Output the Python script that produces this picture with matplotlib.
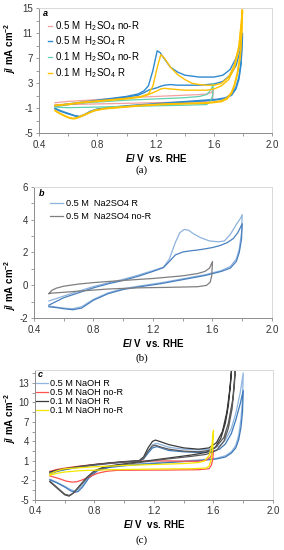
import matplotlib
matplotlib.use("Agg")
import matplotlib.pyplot as plt
from matplotlib.ticker import FixedLocator

plt.rcParams["font.family"] = ["Liberation Sans", "DejaVu Sans"]
plt.rcParams["mathtext.fontset"] = "custom"
plt.rcParams["mathtext.rm"] = "Liberation Sans"
plt.rcParams["mathtext.it"] = "Liberation Sans:italic:bold"
plt.rcParams["mathtext.bf"] = "Liberation Sans:bold"

# ---- panel (a): H2SO4 ----
a_nor05_fwd_E = [0.51, 0.60, 0.80, 1.00, 1.20, 1.40, 1.50, 1.55, 1.58, 1.595]
a_nor05_fwd_j = [-0.1, 0.1, 0.4, 0.7, 0.9, 1.1, 1.2, 1.3, 1.5, 2.0]
a_nor05_rev_E = [1.595, 1.59, 1.57, 1.50, 1.30, 1.00, 0.80, 0.60, 0.51]
a_nor05_rev_j = [2.0, 0.5, 0.2, 0.05, -0.05, -0.2, -0.3, -0.4, -0.4]

a_r05_fwd_E = [0.51, 0.60, 0.70, 0.80, 0.90, 1.00, 1.08, 1.12, 1.15, 1.18, 1.21, 1.23, 1.26,
               1.30, 1.35, 1.40, 1.50, 1.60, 1.66, 1.71, 1.75, 1.78, 1.795]
a_r05_fwd_j = [-0.6, -0.3, 0.0, 0.3, 0.6, 0.9, 1.3, 1.8, 2.6, 5.0, 8.2, 7.9, 6.9,
               5.6, 4.8, 4.3, 4.0, 4.0, 4.3, 5.2, 7.0, 9.2, 11.0]
a_r05_fwd2_j = [-0.7, -0.4, -0.1, 0.2, 0.5, 0.8, 1.1, 1.5, 1.9, 2.1, 2.3, 2.5, 2.7,
                2.8, 2.7, 2.7, 2.7, 2.9, 3.3, 4.3, 5.8, 8.3, 10.5]
a_r05_rev_E = [1.795, 1.785, 1.77, 1.75, 1.72, 1.68, 1.62, 1.50, 1.35, 1.20, 1.05, 0.90,
               0.80, 0.75, 0.71, 0.68, 0.65, 0.60, 0.55, 0.51]
a_r05_rev_j = [11.0, 6.5, 4.0, 2.4, 1.3, 0.7, 0.45, 0.25, 0.0, -0.25, -0.5, -0.8,
               -1.1, -1.5, -2.0, -2.3, -2.2, -1.8, -1.4, -1.0]
a_r05_rev2_j = [10.5, 6.0, 3.6, 2.1, 1.1, 0.6, 0.35, 0.15, -0.1, -0.35, -0.6, -0.9,
                -1.2, -1.6, -2.1, -2.35, -2.25, -1.9, -1.5, -1.1]

a_nor01_fwd_E = [0.51, 0.60, 0.80, 1.00, 1.20, 1.40, 1.50, 1.55, 1.58, 1.595]
a_nor01_fwd_j = [-0.6, -0.3, 0.0, 0.3, 0.5, 0.7, 0.9, 1.2, 2.0, 3.0]
a_nor01_rev_E = [1.595, 1.59, 1.57, 1.55, 1.40, 1.20, 1.00, 0.80, 0.60, 0.51]
a_nor01_rev_j = [3.0, 1.0, 0.0, -0.4, -0.5, -0.6, -0.7, -0.8, -0.9, -0.8]

a_r01_fwd_E = [0.51, 0.60, 0.70, 0.80, 0.90, 1.00, 1.10, 1.15, 1.18, 1.21, 1.235, 1.26, 1.30,
               1.35, 1.40, 1.45, 1.50, 1.55, 1.60, 1.65, 1.70, 1.74, 1.77, 1.785, 1.795]
a_r01_fwd_j = [-0.5, -0.3, 0.0, 0.2, 0.4, 0.6, 0.9, 1.3, 2.5, 5.5, 7.6, 7.0, 5.6,
               4.4, 3.6, 3.0, 2.8, 2.7, 2.7, 3.0, 4.0, 6.0, 9.0, 12.5, 15.3]
a_r01_fwd2_j = [-0.6, -0.4, -0.1, 0.1, 0.3, 0.5, 0.8, 1.2, 1.5, 1.8, 2.1, 2.2, 2.1,
                2.0, 1.9, 1.9, 1.9, 1.9, 2.1, 2.6, 3.6, 5.5, 8.5, 12.0, 14.5]
a_r01_rev_E = [1.795, 1.79, 1.78, 1.76, 1.74, 1.72, 1.69, 1.65, 1.55, 1.40, 1.25, 1.10,
               0.95, 0.85, 0.78, 0.72, 0.67, 0.64, 0.61, 0.57, 0.53, 0.51]
a_r01_rev_j = [15.3, 11.5, 7.8, 4.8, 2.9, 1.6, 0.7, 0.2, -0.1, -0.2, -0.3, -0.5,
               -0.8, -1.0, -1.3, -1.9, -2.4, -2.6, -2.5, -2.1, -1.6, -1.3]
a_r01_rev2_j = [14.5, 11.0, 7.3, 4.4, 2.6, 1.4, 0.5, 0.05, -0.2, -0.3, -0.4, -0.6,
                -0.9, -1.1, -1.4, -2.0, -2.5, -2.7, -2.6, -2.2, -1.7, -1.4]

# ---- panel (b): Na2SO4 ----
b_r_fwd_E = [0.50, 0.55, 0.60, 0.70, 0.80, 0.90, 1.00, 1.10, 1.20, 1.27, 1.31, 1.35, 1.38,
             1.41, 1.44, 1.47, 1.52, 1.58, 1.64, 1.68, 1.72, 1.76, 1.79, 1.80]
b_r_fwd_j = [-0.95, -0.8, -0.65, -0.35, -0.07, 0.15, 0.37, 0.62, 0.9, 1.1, 1.6, 2.6, 3.2,
             3.4, 3.35, 3.15, 2.9, 2.7, 2.65, 2.7, 3.1, 3.7, 4.1, 4.3]
b_r_fwd2_E = [0.50, 0.60, 0.70, 0.80, 0.90, 1.00, 1.10, 1.20, 1.27, 1.31, 1.35, 1.40,
              1.45, 1.50, 1.55, 1.60, 1.65, 1.70, 1.74, 1.77, 1.80]
b_r_fwd2_j = [-1.2, -0.75, -0.45, -0.15, 0.1, 0.3, 0.55, 0.85, 1.08, 1.45, 1.85, 2.03,
              2.1, 2.15, 2.22, 2.3, 2.42, 2.6, 2.85, 3.2, 3.75]
b_r_rev_E = [1.80, 1.795, 1.78, 1.76, 1.72, 1.66, 1.55, 1.40, 1.25, 1.10, 1.00, 0.90,
             0.80, 0.72, 0.66, 0.60, 0.55, 0.50]
b_r_rev_j = [4.3, 3.2, 2.2, 1.6, 1.15, 0.9, 0.65, 0.4, 0.15, -0.05, -0.2, -0.45,
             -0.85, -1.3, -1.42, -1.38, -1.32, -1.25]
b_r_rev2_j = [3.75, 2.8, 2.0, 1.45, 1.05, 0.85, 0.6, 0.35, 0.1, -0.1, -0.25, -0.5,
              -0.9, -1.38, -1.48, -1.42, -1.35, -1.3]

b_nor_fwd_E = [0.50, 0.52, 0.55, 0.60, 0.70, 0.80, 1.00, 1.20, 1.40, 1.50, 1.55, 1.58, 1.60]
b_nor_fwd_j = [-0.5, -0.3, -0.17, -0.05, 0.08, 0.17, 0.3, 0.42, 0.58, 0.72, 0.85, 1.05, 1.45]
b_nor_rev_E = [1.60, 1.595, 1.585, 1.56, 1.50, 1.30, 1.10, 0.90, 0.70, 0.60, 0.52, 0.50]
b_nor_rev_j = [1.45, 0.6, 0.2, 0.0, -0.08, -0.12, -0.15, -0.22, -0.35, -0.42, -0.47, -0.5]

# ---- panel (c): NaOH ----
c_r05_fwd_E = [0.50, 0.55, 0.60, 0.70, 0.80, 0.90, 1.00, 1.10, 1.13, 1.16, 1.19, 1.22,
               1.26, 1.30, 1.40, 1.50, 1.58, 1.64, 1.68, 1.72, 1.75, 1.78, 1.80]
c_r05_fwd_j = [-0.8, -0.5, -0.3, 0.1, 0.4, 0.65, 0.85, 1.0, 1.4, 2.5, 3.5, 3.7,
               3.4, 3.1, 2.8, 2.7, 2.8, 3.3, 4.2, 6.0, 8.3, 11.5, 14.5]
c_r05_fwd2_j = [-1.0, -0.6, -0.35, 0.05, 0.35, 0.6, 0.8, 0.95, 1.3, 2.2, 3.0, 3.2,
                2.9, 2.6, 2.4, 2.3, 2.4, 2.8, 3.6, 5.2, 7.3, 9.8, 11.8]
c_r05_rev_E = [1.80, 1.795, 1.785, 1.77, 1.75, 1.72, 1.68, 1.62, 1.50, 1.40, 1.30, 1.20,
               1.10, 1.00, 0.90, 0.82, 0.76, 0.72, 0.69, 0.67, 0.64, 0.60, 0.55, 0.50]
c_r05_rev_j = [14.5, 10.5, 7.5, 5.0, 3.4, 2.4, 1.8, 1.4, 1.15, 1.0, 0.85, 0.7,
               0.55, 0.35, 0.1, -0.4, -1.5, -2.7, -3.4, -3.6, -3.4, -2.9, -2.3, -1.8]
c_r05_rev2_j = [11.8, 8.5, 6.2, 4.3, 3.0, 2.2, 1.6, 1.3, 1.05, 0.9, 0.75, 0.6,
                0.45, 0.25, 0.0, -0.5, -1.7, -3.0, -3.7, -3.8, -3.6, -3.0, -2.4, -1.9]

c_nor05_fwd_E = [0.50, 0.55, 0.60, 0.70, 0.80, 0.90, 1.00, 1.10, 1.20, 1.30, 1.40, 1.50,
                 1.55, 1.58, 1.60]
c_nor05_fwd_j = [-0.6, -0.3, -0.1, 0.2, 0.45, 0.65, 0.85, 0.95, 1.0, 1.0, 0.95, 0.95,
                 1.1, 1.6, 2.6]
c_nor05_rev_E = [1.60, 1.595, 1.585, 1.57, 1.50, 1.30, 1.10, 0.95, 0.88, 0.82, 0.77,
                 0.72, 0.68, 0.65, 0.61, 0.56, 0.50]
c_nor05_rev_j = [2.6, 1.2, 0.3, -0.2, -0.35, -0.4, -0.42, -0.45, -0.6, -0.9, -1.4,
                 -1.9, -2.2, -2.25, -2.1, -1.7, -1.3]

c_r01_fwd_E = [0.50, 0.55, 0.60, 0.70, 0.80, 0.90, 1.00, 1.10, 1.13, 1.16, 1.19, 1.21,
               1.25, 1.30, 1.40, 1.50, 1.57, 1.62, 1.66, 1.69, 1.71, 1.725]
c_r01_fwd_j = [-0.7, -0.4, -0.2, 0.15, 0.45, 0.7, 0.9, 1.05, 1.6, 3.0, 4.0, 4.2,
               3.9, 3.5, 3.0, 2.8, 3.0, 3.8, 5.5, 8.5, 12.0, 16.0]
c_r01_rev_E = [1.725, 1.715, 1.70, 1.68, 1.65, 1.61, 1.55, 1.45, 1.35, 1.25, 1.15, 1.05,
               0.95, 0.87, 0.80, 0.75, 0.70, 0.66, 0.63, 0.60, 0.56, 0.52, 0.50]
c_r01_rev_j = [16.0, 13.0, 9.5, 6.8, 4.5, 3.0, 2.3, 1.9, 1.6, 1.3, 1.0, 0.7,
               0.4, 0.1, -0.5, -1.5, -2.8, -3.9, -4.4, -4.2, -3.4, -2.6, -2.2]
c_r01_fwd2_E = [0.50, 0.55, 0.60, 0.70, 0.80, 0.90, 1.00, 1.10, 1.13, 1.16, 1.19, 1.21,
                1.25, 1.30, 1.40, 1.50, 1.57, 1.62, 1.67, 1.70, 1.73, 1.75]
c_r01_fwd2_j = [-0.9, -0.5, -0.25, 0.1, 0.4, 0.65, 0.85, 1.0, 1.4, 2.5, 3.3, 3.4,
                3.1, 2.8, 2.5, 2.4, 2.6, 3.2, 4.6, 6.8, 10.5, 16.0]
c_r01_rev2_E = [1.75, 1.74, 1.725, 1.70, 1.67, 1.62, 1.55, 1.45, 1.35, 1.25, 1.15, 1.05,
                0.95, 0.87, 0.80, 0.75, 0.70, 0.66, 0.63, 0.60, 0.56, 0.52, 0.50]
c_r01_rev2_j = [16.0, 12.5, 9.0, 6.0, 4.0, 2.6, 2.0, 1.7, 1.45, 1.2, 0.9, 0.6,
                0.3, 0.0, -0.6, -1.6, -2.9, -3.9, -4.3, -4.1, -3.3, -2.5, -2.1]

c_nor01_fwd_E = [0.50, 0.55, 0.60, 0.80, 1.00, 1.20, 1.40, 1.50, 1.54, 1.57, 1.59, 1.60]
c_nor01_fwd_j = [-1.0, -0.5, -0.2, 0.1, 0.3, 0.45, 0.6, 0.75, 1.0, 1.8, 3.5, 5.7]
c_nor01_rev_E = [1.60, 1.595, 1.585, 1.57, 1.55, 1.45, 1.20, 0.90, 0.70, 0.60, 0.55, 0.50]
c_nor01_rev_j = [5.7, 3.0, 1.2, 0.2, -0.1, -0.2, -0.25, -0.35, -0.5, -0.7, -0.9, -1.2]

x_major = [0.4, 0.8, 1.2, 1.6, 2.0]
x_minor = [0.6, 1.0, 1.4, 1.8]


def loop(ax, fE, fj, rE, rj, color, lw=0.9, label=None):
    ax.plot(fE + rE, fj + rj, color=color, lw=lw, label=label)


def style(ax, ylim, ymajor, yminor):
    ax.set_xlim(0.4, 2.0)
    ax.set_ylim(*ylim)
    ax.xaxis.set_major_locator(FixedLocator(x_major))
    ax.xaxis.set_minor_locator(FixedLocator(x_minor))
    ax.yaxis.set_major_locator(FixedLocator(ymajor))
    ax.yaxis.set_minor_locator(FixedLocator(yminor))
    ax.set_xticklabels(["%.1f" % v for v in x_major])
    ax.set_yticklabels(["%g" % v for v in ymajor])
    ax.tick_params(which="both", direction="out", length=2.5, width=0.6,
                   color="#8c8c8c", labelsize=7, labelcolor="#333333", pad=2)
    for s in ["left", "bottom"]:
        ax.spines[s].set_color("#8c8c8c")
        ax.spines[s].set_linewidth(0.7)
    for s in ["top", "right"]:
        ax.spines[s].set_color("#d9d9d9")
        ax.spines[s].set_linewidth(0.7)
    ax.set_xlabel(r"$E$/ V  vs. RHE", fontsize=7, fontweight="bold", labelpad=1.5)
    ax.set_ylabel(r"$j$/ mA cm$^{\mathbf{-2}}$", fontsize=7, fontweight="bold")


fig = plt.figure(figsize=(2.84, 5.5), dpi=100)

# (a)
ax = fig.add_axes([0.1373, 0.7576, 0.822, 0.2273])
loop(ax, a_nor05_fwd_E, a_nor05_fwd_j, a_nor05_rev_E, a_nor05_rev_j, "#f2a0a0", label="0.5 M  H$_2$SO$_4$ no-R")
loop(ax, a_r05_fwd_E, a_r05_fwd_j, a_r05_rev_E, a_r05_rev_j, "#2f8ad0", 1.0, label="0.5 M  H$_2$SO$_4$ R")
loop(ax, a_r05_fwd_E, a_r05_fwd2_j, a_r05_rev_E, a_r05_rev2_j, "#2f8ad0", 1.0)
loop(ax, a_nor01_fwd_E, a_nor01_fwd_j, a_nor01_rev_E, a_nor01_rev_j, "#5fd0b0", label="0.1 M  H$_2$SO$_4$ no-R")
loop(ax, a_r01_fwd_E, a_r01_fwd_j, a_r01_rev_E, a_r01_rev_j, "#ffc000", 1.0, label="0.1 M  H$_2$SO$_4$ R")
loop(ax, a_r01_fwd_E, a_r01_fwd2_j, a_r01_rev_E, a_r01_rev2_j, "#ffc000", 1.0)
style(ax, (-5, 15), [-5, -1, 3, 7, 11, 15], [-3, 1, 5, 9, 13])
ax.yaxis.set_label_coords(-0.09, 0.68)
ax.text(0.016, 0.96, "a", transform=ax.transAxes, fontsize=6.5, fontweight="bold",
        fontstyle="italic", ha="left", va="center")
ax.legend(loc="upper left", bbox_to_anchor=(0.037, 0.915), frameon=False, fontsize=7,
          handlelength=0.5, handletextpad=0.3, labelspacing=0.2, borderpad=0, borderaxespad=0)

# (b)
ax = fig.add_axes([0.1197, 0.4213, 0.838, 0.2393])
loop(ax, b_r_fwd_E, b_r_fwd_j, b_r_rev_E, b_r_rev_j, "#8db3dd", label="0.5 M  Na2SO4 R")
loop(ax, b_r_fwd2_E, b_r_fwd2_j, b_r_rev_E, b_r_rev2_j, "#4a80bf")
loop(ax, b_nor_fwd_E, b_nor_fwd_j, b_nor_rev_E, b_nor_rev_j, "#7f7f7f", label="0.5 M  Na2SO4 no-R")
style(ax, (-2, 6), [-2, 0, 2, 4, 6], [-1, 1, 3, 5])
ax.yaxis.set_label_coords(-0.068, 0.25)
ax.text(0.02, 0.945, "b", transform=ax.transAxes, fontsize=6.5, fontweight="bold",
        fontstyle="italic", ha="left", va="center")
h, l = ax.get_legend_handles_labels()
ax.legend(h, l, loc="upper left", bbox_to_anchor=(0.067, 0.905), frameon=False, fontsize=6.6,
          handlelength=1.4, handletextpad=0.3, labelspacing=0.42, borderpad=0, borderaxespad=0)

# (c)
ax = fig.add_axes([0.1232, 0.0909, 0.838, 0.2369])
loop(ax, c_r05_fwd_E, c_r05_fwd_j, c_r05_rev_E, c_r05_rev_j, "#8fb5e0", label="0.5 M NaOH R")
loop(ax, c_r05_fwd_E, c_r05_fwd2_j, c_r05_rev_E, c_r05_rev2_j, "#3d78b8")
loop(ax, c_nor05_fwd_E, c_nor05_fwd_j, c_nor05_rev_E, c_nor05_rev_j, "#ff5050", label="0.5 M NaOH no-R")
loop(ax, c_r01_fwd_E, c_r01_fwd_j, c_r01_rev_E, c_r01_rev_j, "#3a3a3a", label="0.1 M NaOH R")
loop(ax, c_r01_fwd2_E, c_r01_fwd2_j, c_r01_rev2_E, c_r01_rev2_j, "#5a5a5a")
loop(ax, c_nor01_fwd_E, c_nor01_fwd_j, c_nor01_rev_E, c_nor01_rev_j, "#f5e600", label="0.1 M NaOH no-R")
style(ax, (-5, 15), [-5, -2, 1, 4, 7, 10, 13], [-3.5, -0.5, 2.5, 5.5, 8.5, 11.5, 14.5])
ax.yaxis.set_label_coords(-0.072, 0.63)
ax.text(0.01, 0.96, "c", transform=ax.transAxes, fontsize=6.5, fontweight="bold",
        fontstyle="italic", ha="left", va="center")
h, l = ax.get_legend_handles_labels()
ax.legend(h, l, loc="upper left", bbox_to_anchor=(0.004, 0.925), frameon=False, fontsize=6.6,
          handlelength=1.3, handletextpad=0.2, labelspacing=0.0, borderpad=0, borderaxespad=0)

for txt, y in [("(a)", 170), ("(b)", 358), ("(c)", 540)]:
    fig.text(0.5, 1 - y / 550, txt, ha="center", va="center", fontsize=8,
             family="Liberation Serif")

fig.savefig("out.png", dpi=100)
